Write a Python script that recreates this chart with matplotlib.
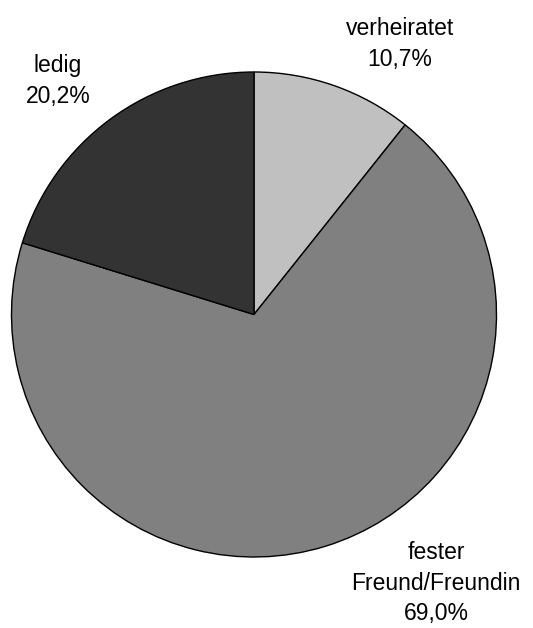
import matplotlib

matplotlib.use("Agg")

import matplotlib.pyplot as plt  # noqa: E402

categories = ["verheiratet", "fester\nFreund/Freundin", "ledig"]
shares = [10.7, 69.0, 20.2]
pct_labels = ["10,7%", "69,0%", "20,2%"]
colors = ["#c0c0c0", "#808080", "#333333"]

plt.rcParams["font.family"] = ["Liberation Sans", "DejaVu Sans"]

fig = plt.figure(figsize=(5.33, 6.28), dpi=100)
ax = fig.add_axes([0, 0, 1, 1])

ax.pie(shares, colors=colors, startangle=90, counterclock=False,
       center=(254, 313.5), radius=242.5, frame=True,
       wedgeprops=dict(edgecolor="black", linewidth=1.0))
ax.set_xlim(0, 533)
ax.set_ylim(0, 628)
ax.set_aspect("equal")
ax.axis("off")

# label positions (pixel space, y up)
label_pos = [(400, 584), (436, 45), (58, 547)]
for cat, pct, (x, y) in zip(categories, pct_labels, label_pos):
    ax.text(x, y, f"{cat}\n{pct}", ha="center", va="center",
            fontsize=16.5, linespacing=1.42)

fig.savefig("out.png", dpi=100)
